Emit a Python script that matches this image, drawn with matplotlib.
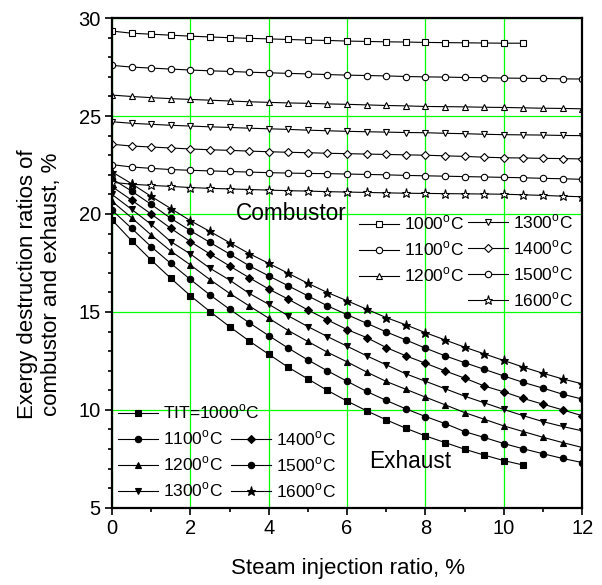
import numpy as np
import matplotlib
matplotlib.use("Agg")
import matplotlib.pyplot as plt

plt.rcParams["font.family"] = ["Liberation Sans", "DejaVu Sans"]
plt.rcParams["mathtext.fontset"] = "custom"
plt.rcParams["mathtext.rm"] = "Liberation Sans"

# =========================
# DATA
# =========================
steam = [0, 0.5, 1, 1.5, 2, 2.5, 3, 3.5, 4, 4.5, 5, 5.5, 6,
         6.5, 7, 7.5, 8, 8.5, 9, 9.5, 10, 10.5, 11, 11.5, 12]
steam_1000 = steam[:22]

tit = ["1000", "1100", "1200", "1300", "1400", "1500", "1600"]

# combustor (hollow markers)
comb_1000 = [29.34, 29.23, 29.18, 29.13, 29.08, 29.04, 29.00, 28.97, 28.94, 28.91, 28.88,
             28.86, 28.83, 28.81, 28.79, 28.78, 28.76, 28.75, 28.74, 28.73, 28.72, 28.72]
comb_1100 = [27.59, 27.50, 27.45, 27.40, 27.35, 27.31, 27.28, 27.24, 27.21, 27.18, 27.15,
             27.12, 27.09, 27.07, 27.05, 27.02, 27.00, 26.99, 26.97, 26.96, 26.94, 26.93,
             26.92, 26.90, 26.89]
comb_1200 = [26.07, 26.00, 25.94, 25.89, 25.85, 25.81, 25.77, 25.73, 25.70, 25.67, 25.65,
             25.62, 25.60, 25.57, 25.54, 25.52, 25.49, 25.48, 25.47, 25.45, 25.44, 25.42,
             25.40, 25.39, 25.37]
comb_1300 = [24.71, 24.63, 24.58, 24.53, 24.49, 24.45, 24.42, 24.38, 24.35, 24.32, 24.28,
             24.25, 24.22, 24.20, 24.18, 24.16, 24.15, 24.12, 24.10, 24.07, 24.05, 24.04,
             24.03, 24.01, 24.00]
comb_1400 = [23.56, 23.47, 23.42, 23.37, 23.32, 23.28, 23.25, 23.21, 23.18, 23.15, 23.13,
             23.10, 23.08, 23.06, 23.04, 23.02, 23.00, 22.97, 22.94, 22.90, 22.87, 22.86,
             22.84, 22.83, 22.81]
comb_1500 = [22.52, 22.40, 22.33, 22.27, 22.23, 22.20, 22.17, 22.14, 22.11, 22.09, 22.07,
             22.06, 22.04, 22.02, 22.00, 21.97, 21.95, 21.93, 21.91, 21.89, 21.87, 21.85,
             21.82, 21.80, 21.77]
comb_1600 = [21.62, 21.52, 21.46, 21.41, 21.35, 21.31, 21.28, 21.25, 21.22, 21.19, 21.17,
             21.14, 21.12, 21.10, 21.08, 21.06, 21.05, 21.04, 21.03, 21.02, 21.01, 20.98,
             20.95, 20.91, 20.88]

# exhaust (filled markers)
exh_1000 = [19.70, 18.64, 17.65, 16.72, 15.83, 15.02, 14.25, 13.52, 12.84, 12.17, 11.58,
            10.99, 10.45, 9.95, 9.49, 9.06, 8.67, 8.33, 7.99, 7.69, 7.41, 7.18]
exh_1100 = [20.20, 19.27, 18.33, 17.48, 16.66, 15.87, 15.14, 14.45, 13.79, 13.15, 12.55,
            11.99, 11.46, 10.94, 10.48, 10.05, 9.66, 9.30, 8.89, 8.59, 8.28, 8.01,
            7.76, 7.52, 7.31]
exh_1200 = [20.65, 19.81, 18.93, 18.11, 17.40, 16.65, 15.95, 15.31, 14.68, 14.05, 13.49,
            12.94, 12.45, 11.93, 11.45, 11.05, 10.65, 10.26, 9.86, 9.52, 9.18, 8.89,
            8.60, 8.33, 8.08]
exh_1300 = [21.00, 20.24, 19.47, 18.59, 17.96, 17.23, 16.63, 15.95, 15.39, 14.80, 14.25,
            13.74, 13.25, 12.76, 12.30, 11.84, 11.46, 11.08, 10.70, 10.36, 10.02, 9.70,
            9.40, 9.15, 8.93]
exh_1400 = [21.40, 20.71, 20.00, 19.27, 18.59, 17.96, 17.35, 16.75, 16.17, 15.65, 15.10,
            14.59, 14.10, 13.69, 13.18, 12.76, 12.38, 11.99, 11.62, 11.22, 10.92, 10.58,
            10.29, 10.00, 9.70]
exh_1500 = [21.80, 21.17, 20.49, 19.78, 19.15, 18.55, 17.96, 17.36, 16.84, 16.33, 15.82,
            15.31, 14.86, 14.42, 13.98, 13.57, 13.15, 12.76, 12.41, 12.07, 11.73, 11.40,
            11.11, 10.80, 10.55]
exh_1600 = [22.15, 21.55, 20.90, 20.28, 19.66, 19.11, 18.54, 17.98, 17.48, 16.97, 16.46,
            15.99, 15.57, 15.14, 14.71, 14.34, 13.94, 13.57, 13.20, 12.86, 12.52, 12.18,
            11.87, 11.58, 11.33]

comb = [comb_1000, comb_1100, comb_1200, comb_1300, comb_1400, comb_1500, comb_1600]
exh = [exh_1000, exh_1100, exh_1200, exh_1300, exh_1400, exh_1500, exh_1600]

markers = ["s", "o", "^", "v", "D", "o", "*"]
msizes = [4.2, 4.6, 4.8, 4.8, 4.2, 4.6, 6.5]

# =========================
# FIGURE
# =========================
fig = plt.figure(figsize=(6.02, 5.85), dpi=100)
ax = fig.add_axes([0.186, 0.132, 0.781, 0.837])

comb_handles = []
exh_handles = []
for i in range(7):
    xs = steam_1000 if i == 0 else steam
    h, = ax.plot(xs, comb[i], color="black", lw=0.8, marker=markers[i],
                 ms=msizes[i], mfc="white", mec="black", mew=0.8)
    comb_handles.append(h)
    h, = ax.plot(xs, exh[i], color="black", lw=0.8, marker=markers[i],
                 ms=msizes[i], mfc="black", mec="black", mew=0.8)
    exh_handles.append(h)

ax.set_xlim(0, 12)
ax.set_ylim(5, 30)
ax.set_xticks(np.arange(0, 13, 2))
ax.set_xticks(np.arange(1, 12, 2), minor=True)
ax.set_yticks(np.arange(5, 31, 5))
ax.set_yticks(np.arange(5, 31, 1), minor=True)

ax.grid(True, which="major", color="#00ff00", lw=0.9)
ax.set_axisbelow(True)

for s in ax.spines.values():
    s.set_linewidth(1.6)
ax.tick_params(which="major", direction="out", length=5, width=1.2, labelsize=14.5, pad=3)
ax.tick_params(which="minor", direction="out", length=3, width=1.2)

ax.set_xlabel("Steam injection ratio, %", fontsize=16)
ax.set_ylabel("Exergy destruction ratios of\ncombustor and exhaust, %", fontsize=16,
              linespacing=1.2)
ax.xaxis.set_label_coords(0.503, -0.102)
ax.yaxis.set_label_coords(-0.106, 0.457)

ax.text(4.57, 20.04, "Combustor", fontsize=16.3, ha="center", va="center")
ax.text(7.62, 7.36, "Exhaust", fontsize=16.3, ha="center", va="center")

# =========================
# LEGENDS
# =========================
def lab(t):
    return t + r"$^\mathrm{o}$C"

leg_kw = dict(frameon=False, fontsize=12.5, handlelength=2.3, handletextpad=0.3,
              labelspacing=0.42, borderpad=0, borderaxespad=0, loc="upper left")

l1 = ax.legend(comb_handles[:3], [lab(t) for t in tit[:3]],
               bbox_to_anchor=(0.526, 0.600), **leg_kw)
ax.add_artist(l1)
l2 = ax.legend(comb_handles[3:], [lab(t) for t in tit[3:]],
               bbox_to_anchor=(0.757, 0.603), **leg_kw)
ax.add_artist(l2)

l3 = ax.legend(exh_handles[:4], ["TIT=" + lab(tit[0])] + [lab(t) for t in tit[1:4]],
               bbox_to_anchor=(0.013, 0.214), **leg_kw)
ax.add_artist(l3)
l4 = ax.legend(exh_handles[4:], [lab(t) for t in tit[4:]],
               bbox_to_anchor=(0.253, 0.160), **leg_kw)

fig.savefig("out.png", dpi=100)
